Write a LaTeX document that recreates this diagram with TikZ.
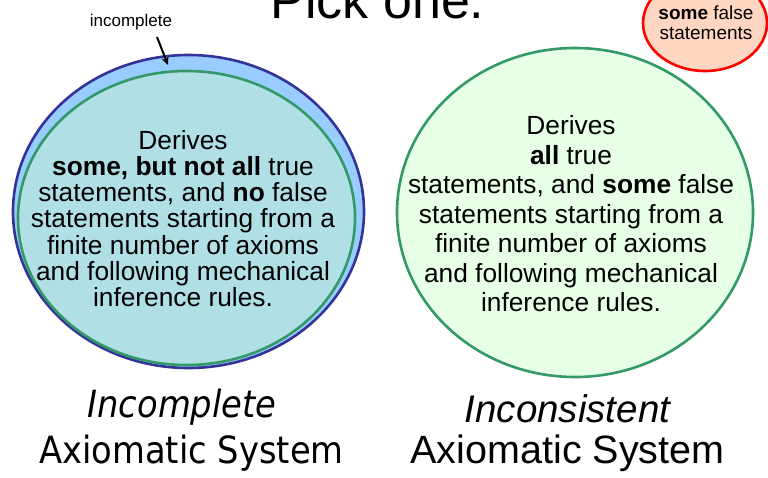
\documentclass[tikz,border=0pt]{standalone}
\usepackage{fontspec}
\setmainfont{Liberation Sans}
\newfontfamily\tahoma[FakeStretch=0.9]{DejaVu Sans}
\usetikzlibrary{shapes.geometric,arrows.meta}

\definecolor{outerblue}{RGB}{51,51,153}
\definecolor{bandblue}{RGB}{153,204,255}
\definecolor{setgreen}{RGB}{51,153,102}
\definecolor{innercyan}{RGB}{176,224,230}
\definecolor{palegreen}{RGB}{230,255,230}
\definecolor{peach}{RGB}{255,214,194}

\tikzset{
  blob/.style={ellipse, inner sep=0pt, line width=2.6pt},
  bodytext/.style={align=center, inner sep=0pt, text=black},
  caption/.style={anchor=base, inner sep=0pt}
}

\begin{document}
\begin{tikzpicture}[x=1pt,y=-1pt]
\useasboundingbox (0,0) rectangle (768,477);
\clip (0,0) rectangle (768,477);
\fill[white] (0,0) rectangle (768,477);

% heading, partly above the page edge
\node[caption, font=\fontsize{52}{52}\selectfont] (title) at (377.5,18) {Pick one.};

% left: incomplete system
\node[blob, draw=outerblue, fill=bandblue, minimum width=351pt, minimum height=313pt] (outer) at (188.5,211.5) {};
\node[blob, draw=setgreen, fill=innercyan, minimum width=337pt, minimum height=294pt] (inner) at (186.5,218) {};
\node[bodytext, font=\fontsize{26.3}{26.2}\selectfont] (lefttext) at (183,218.5)
  {Derives\\ \textbf{some, but not all} true\\ statements, and \textbf{no} false\\ statements starting from a\\ finite number of axioms\\ and following mechanical\\ inference rules.};

\node[caption, font=\fontsize{17}{17}\selectfont] (gap) at (131,26) {incomplete};
\coordinate (gaptail) at (157,37);
\coordinate (gaptip) at (168,65);
\draw[line width=2pt, -{Stealth[length=8pt,width=7pt]}] (gaptail) -- (gaptip);

% right: inconsistent system
\node[blob, draw=setgreen, fill=palegreen, minimum width=356pt, minimum height=329pt] (right) at (575,212.5) {};
\node[bodytext, font=\fontsize{26.3}{29.5}\selectfont] (righttext) at (571,214)
  {Derives\\ \textbf{all} true\\ statements, and \textbf{some} false\\ statements starting from a\\ finite number of axioms\\ and following mechanical\\ inference rules.};

% corner bubble
\node[blob, draw=red, fill=peach, minimum width=124pt, minimum height=96pt] (falsebubble) at (705,23) {};
\node[bodytext, font=\fontsize{19}{20}\selectfont] (falsetext) at (706,23)
  {\textbf{some} false\\ statements};

% captions
\node[caption, font=\tahoma\itshape\fontsize{37.5}{37.5}\selectfont] (capA1) at (182,417) {Incomplete};
\node[caption, font=\tahoma\fontsize{37.5}{37.5}\selectfont] (capA2) at (191.5,463) {Axiomatic System};
\node[caption, font=\itshape\fontsize{38.5}{38.5}\selectfont] (capB1) at (567.5,422) {Inconsistent};
\node[caption, font=\fontsize{39.5}{39.5}\selectfont] (capB2) at (567.5,463) {Axiomatic System};
\end{tikzpicture}
\end{document}
